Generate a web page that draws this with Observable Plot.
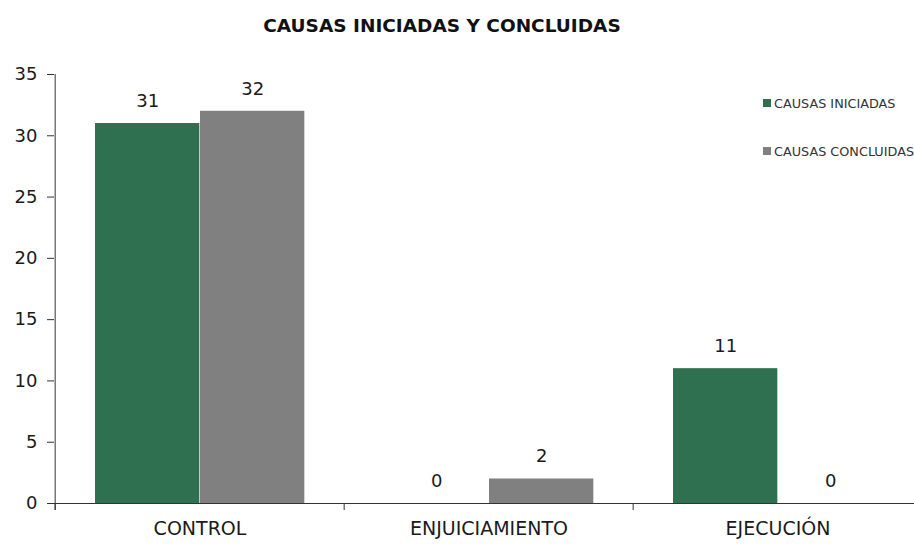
<!DOCTYPE html>
<html>
<head>
<meta charset="utf-8">
<script src="https://cdn.jsdelivr.net/npm/d3@7"></script>
<script src="https://cdn.jsdelivr.net/npm/@observablehq/plot@0.6"></script>
<style>
  body { margin: 0; background: #fff; font-family: "DejaVu Sans", sans-serif; }
  #wrap { position: relative; width: 914px; height: 544px; overflow: hidden; }
  #title { height: 50px; width: 884px; text-align: center; font-weight: bold; font-size: 18.5px; line-height: 52px; color: #111; }
  #legend { position: absolute; left: 763px; top: 94px; font-size: 12.8px; color: #333; white-space: nowrap; }
  #legend .item { display: flex; align-items: center; height: 18px; margin-bottom: 30px; }
  #legend .sw { width: 8px; height: 8px; margin-right: 3px; flex: none; }
  svg { display: block; }
</style>
</head>
<body>
<div id="wrap">
  <div id="title">CAUSAS INICIADAS Y CONCLUIDAS</div>
  <div id="chart"></div>
  <div id="legend"></div>
</div>
<script>
const categories = ["CONTROL", "ENJUICIAMIENTO", "EJECUCIÓN"];
const seriesNames = ["CAUSAS INICIADAS", "CAUSAS CONCLUIDAS"];
const iniciadas = [31, 0, 11];
const concluidas = [32, 2, 0];
const yTicks = [0, 5, 10, 15, 20, 25, 30, 35];
const colors = ["#2e7050", "#808080"];

const dataIni = categories.map((c, i) => ({cat: c, value: iniciadas[i]}));
const dataCon = categories.map((c, i) => ({cat: c, value: concluidas[i]}));

const x0 = 54, x1 = 923;
const bw = (x1 - x0) / categories.length;
const half = bw / 2;
const textColor = "#1a1a1a";

const chart = Plot.plot({
  width: 914,
  height: 494,
  marginLeft: 54,
  marginRight: 0,
  marginTop: 24,
  marginBottom: 41,
  style: {fontFamily: "DejaVu Sans, sans-serif", color: textColor, background: "transparent"},
  x: {domain: categories, range: [x0, x1], paddingInner: 0, paddingOuter: 0, axis: null},
  y: {domain: [0, 35], axis: null},
  marks: [
    Plot.barY(dataIni, {x: "cat", y: "value", fill: colors[0], insetLeft: 40, insetRight: bw - 145}),
    Plot.barY(dataCon, {x: "cat", y: "value", fill: colors[1], insetLeft: 145, insetRight: bw - 250}),
    Plot.text(dataIni, {x: "cat", y: "value", text: d => String(d.value), dx: 92.5 - half, dy: -22.5, fontSize: 18, fill: textColor}),
    Plot.text(dataCon, {x: "cat", y: "value", text: d => String(d.value), dx: 197.5 - half, dy: -22.5, fontSize: 18, fill: textColor}),
    Plot.ruleY([0], {stroke: "#333", strokeWidth: 1}),
    Plot.ruleX(categories, {x: d => d, y1: 0, y2: 0, insetBottom: -7, dx: -half, stroke: "#333"}),
    Plot.ruleX([categories[0]], {x: d => d, y1: 35, y2: 0, insetBottom: -7, dx: -half, stroke: "#333"}),
    Plot.axisY({ticks: yTicks, tickSize: 7, tickPadding: 10, fontSize: 18, label: null, stroke: "#333", fill: textColor}),
    Plot.axisX({tickSize: 0, tickPadding: 18, fontSize: 19, label: null, fill: textColor})
  ]
});
document.getElementById("chart").appendChild(chart);

const legend = document.getElementById("legend");
seriesNames.forEach((s, i) => {
  const item = document.createElement("div");
  item.className = "item";
  const sw = document.createElement("span");
  sw.className = "sw";
  sw.style.background = colors[i];
  const label = document.createElement("span");
  label.textContent = s;
  item.appendChild(sw);
  item.appendChild(label);
  legend.appendChild(item);
});
</script>
</body>
</html>
